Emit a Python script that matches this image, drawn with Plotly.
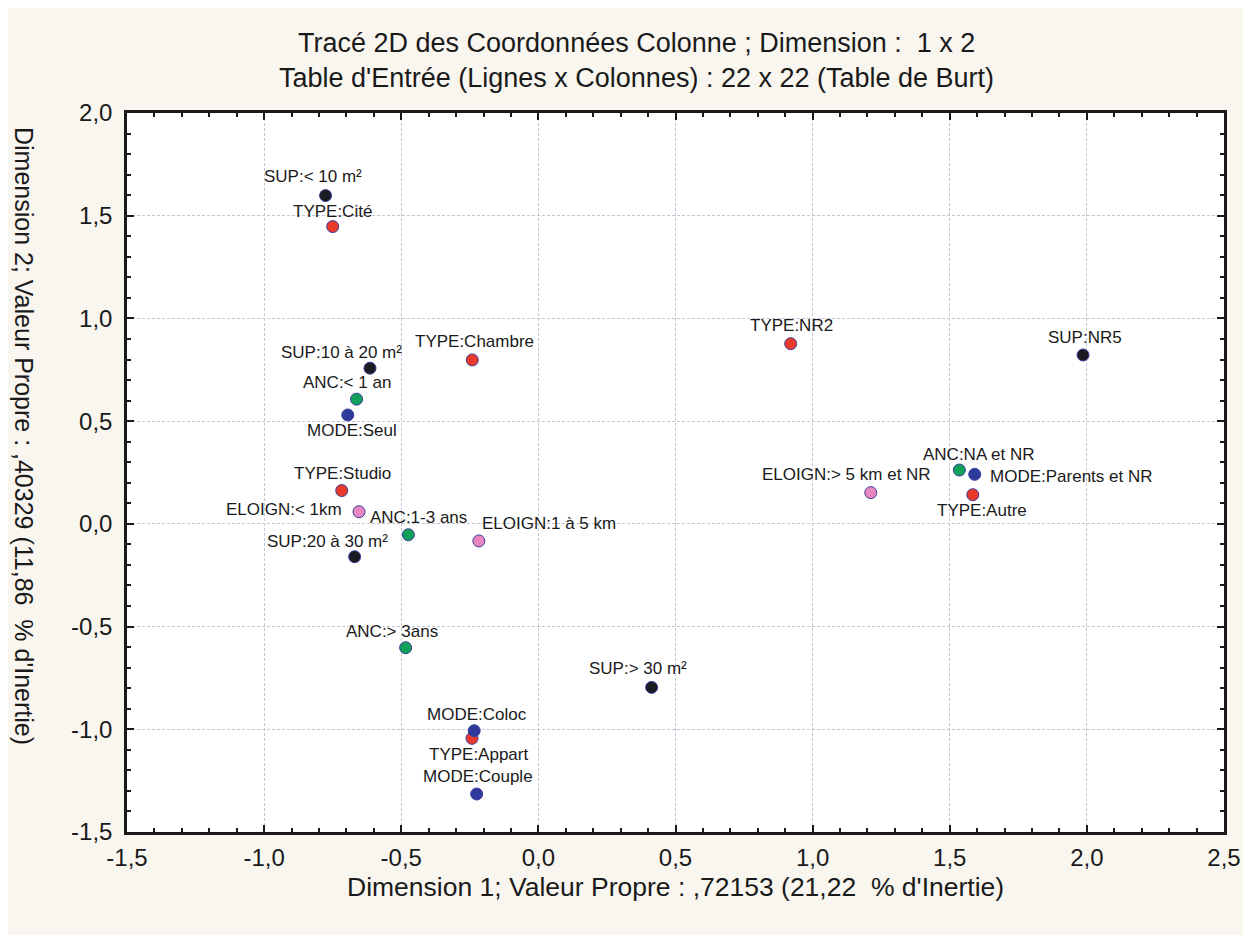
import plotly.graph_objects as go

# ---- data ----
labels = [
    "SUP:< 10 m²", "SUP:10 à 20 m²", "SUP:20 à 30 m²", "SUP:> 30 m²", "SUP:NR5",
    "TYPE:Cité", "TYPE:Chambre", "TYPE:Studio", "TYPE:Appart", "TYPE:NR2", "TYPE:Autre",
    "MODE:Seul", "MODE:Coloc", "MODE:Couple", "MODE:Parents et NR",
    "ANC:< 1 an", "ANC:1-3 ans", "ANC:> 3ans", "ANC:NA et NR",
    "ELOIGN:< 1km", "ELOIGN:1 à 5 km", "ELOIGN:> 5 km et NR",
]
groups = ["SUP"] * 5 + ["TYPE"] * 6 + ["MODE"] * 4 + ["ANC"] * 4 + ["ELOIGN"] * 3
dim1 = [-0.776, -0.614, -0.670, 0.413, 1.986,
        -0.750, -0.241, -0.717, -0.242, 0.920, 1.584,
        -0.695, -0.234, -0.225, 1.591,
        -0.663, -0.474, -0.484, 1.535,
        -0.654, -0.217, 1.212]
dim2 = [1.598, 0.758, -0.160, -0.796, 0.822,
        1.447, 0.798, 0.162, -1.044, 0.877, 0.142,
        0.530, -1.007, -1.315, 0.241,
        0.607, -0.053, -0.603, 0.262,
        0.059, -0.083, 0.152]

x_tick_vals = [-1.5, -1.0, -0.5, 0.0, 0.5, 1.0, 1.5, 2.0, 2.5]
x_tick_text = ["-1,5", "-1,0", "-0,5", "0,0", "0,5", "1,0", "1,5", "2,0", "2,5"]
y_tick_vals = [-1.5, -1.0, -0.5, 0.0, 0.5, 1.0, 1.5, 2.0]
y_tick_text = ["-1,5", "-1,0", "-0,5", "0,0", "0,5", "1,0", "1,5", "2,0"]

title_lines = ["Tracé 2D des Coordonnées Colonne ; Dimension :  1 x 2",
               "Table d'Entrée (Lignes x Colonnes) : 22 x 22 (Table de Burt)"]
x_title = "Dimension 1; Valeur Propre : ,72153 (21,22  % d'Inertie)"
y_title = "Dimension 2; Valeur Propre : ,40329 (11,86  % d'Inertie)"

# ---- styles ----
group_colors = {"SUP": "#1b1b22", "TYPE": "#e8392b", "MODE": "#2d3a9b",
                "ANC": "#10a05a", "ELOIGN": "#e887bf"}
# label offsets from the marker, in screen pixels (right, down)
label_dx = [-13, -28, -27, -14, 2,
            0, 2, 1, 6, 1, 9,
            4, 3, 1, 97,
            -10, 10, -14, 19,
            -75, 70, -24]
label_dy = [-19, -16, -15, -19, -17,
            -15, -18, -17, 16, -18, 16,
            16, -16, -18, 2,
            -17, -17, -16, -16,
            -2, -17, -18]

FONT = "Liberation Sans, Arial, sans-serif"
INK = "#1a1a1a"

fig = go.Figure()
for g in ["SUP", "TYPE", "MODE", "ANC", "ELOIGN"]:
    idx = [i for i, gg in enumerate(groups) if gg == g]
    fig.add_trace(go.Scatter(
        x=[dim1[i] for i in idx], y=[dim2[i] for i in idx],
        mode="markers",
        marker=dict(size=12, color=group_colors[g], line=dict(color="#3b3d9c", width=1)),
        showlegend=False, cliponaxis=False,
    ))

annotations = []
for i, lab in enumerate(labels):
    annotations.append(dict(
        text=lab, x=dim1[i], y=dim2[i], xref="x", yref="y",
        xshift=label_dx[i], yshift=-label_dy[i], showarrow=False,
        xanchor="center", yanchor="middle",
        font=dict(family=FONT, size=17, color=INK),
    ))

axis_common = dict(
    showline=True, linecolor=INK, linewidth=2.5, mirror="ticks",
    ticks="inside", ticklen=7, tickwidth=2, tickcolor=INK,
    showgrid=True, gridcolor="#c3c6d2", griddash="3px,2px", gridwidth=1,
    zeroline=False, tickmode="array",
    tickfont=dict(family=FONT, size=24, color=INK),
    minor=dict(dtick=0.1, tick0=0, ticks="inside", ticklen=4, tickwidth=1.5,
               tickcolor=INK, showgrid=False),
)
fig.update_xaxes(range=[-1.5, 2.5], tickvals=x_tick_vals, ticktext=x_tick_text,
                 ticklabelstandoff=2, **axis_common)
fig.update_yaxes(range=[-1.5, 2.0], tickvals=y_tick_vals, ticktext=y_tick_text,
                 ticklabelstandoff=7, **axis_common)

annotations += [
    dict(text=title_lines[0], x=0.464, y=1.0974, xref="paper", yref="paper",
         showarrow=False, xanchor="center", yanchor="middle",
         font=dict(family=FONT, size=27, color=INK)),
    dict(text=title_lines[1], x=0.464, y=1.049, xref="paper", yref="paper",
         showarrow=False, xanchor="center", yanchor="middle",
         font=dict(family=FONT, size=27, color=INK)),
    dict(text=x_title, x=0.50, y=-0.0765, xref="paper", yref="paper",
         showarrow=False, xanchor="center", yanchor="middle",
         font=dict(family=FONT, size=26.5, color=INK)),
    dict(text=y_title, x=-0.094, y=0.551, xref="paper", yref="paper",
         showarrow=False, xanchor="center", yanchor="middle", textangle=90,
         font=dict(family=FONT, size=25, color=INK)),
]

fig.update_layout(
    width=1251, height=935,
    margin=dict(l=119, r=35, t=105, b=111),
    paper_bgcolor="#f9f6f0", plot_bgcolor="#ffffff",
    annotations=annotations,
)

fig.write_html("out.html")
